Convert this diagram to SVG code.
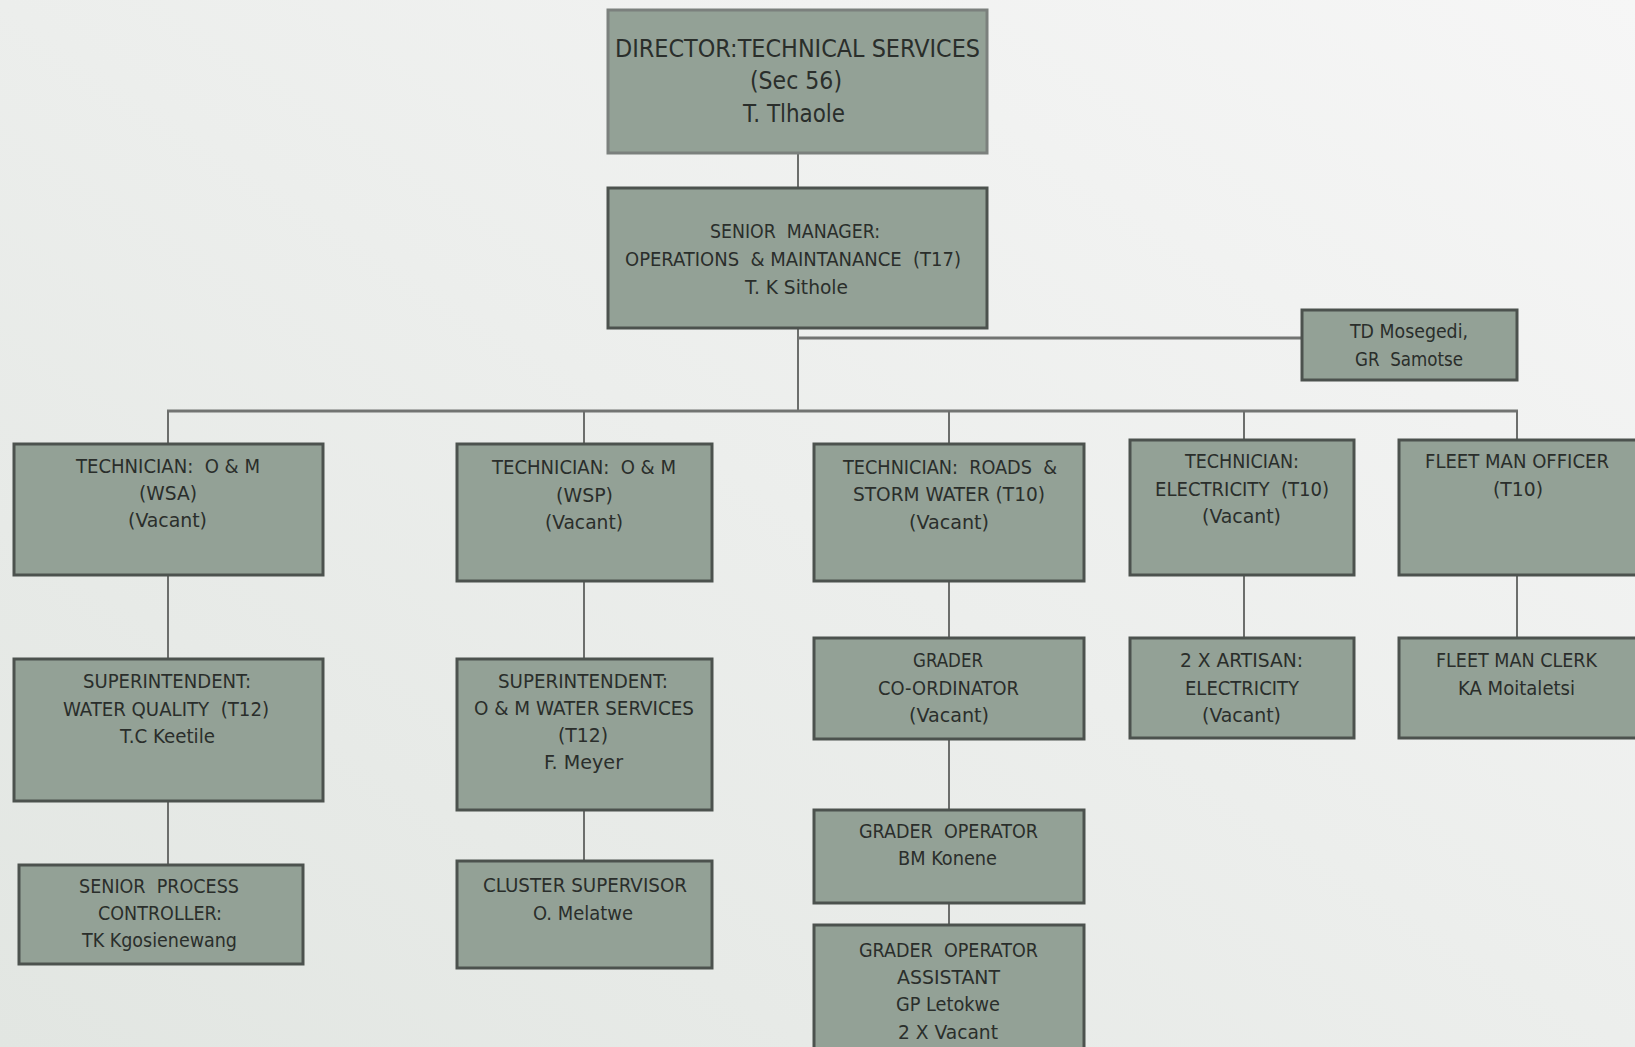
<svg xmlns="http://www.w3.org/2000/svg" width="1635" height="1047" viewBox="0 0 1635 1047">
  <defs>
    <linearGradient id="bg" x1="1" y1="0" x2="0" y2="1">
      <stop offset="0" stop-color="#f6f6f6"/>
      <stop offset="1" stop-color="#e2e6e2"/>
    </linearGradient>
    <style>
      .box { fill: #93a196; stroke: #4c524e; stroke-width: 3; }
      .box.light { stroke: #7b807d; }
      .t { font-family: "DejaVu Sans Condensed", "DejaVu Sans", sans-serif; font-size: 20px; fill: #2a2e2b; text-anchor: middle; white-space: pre; }
      .big { font-size: 25px; }
      .v { stroke: #6c6e6c; stroke-width: 2; fill: none; }
      .h { stroke: #727472; stroke-width: 3; fill: none; }
    </style>
  </defs>

  <rect x="0" y="0" width="1635" height="1047" fill="url(#bg)"/>

  <!-- reporting lines -->
  <g id="connectors">
    <line class="v" x1="798" y1="153" x2="798" y2="188"/>
    <line class="v" x1="798" y1="328" x2="798" y2="411"/>
    <line class="h" x1="798" y1="338" x2="1302" y2="338"/>
    <line class="h" x1="167" y1="411" x2="1518" y2="411"/>
    <line class="v" x1="168" y1="411" x2="168" y2="444"/>
    <line class="v" x1="584" y1="411" x2="584" y2="444"/>
    <line class="v" x1="949" y1="411" x2="949" y2="444"/>
    <line class="v" x1="1244" y1="411" x2="1244" y2="440"/>
    <line class="v" x1="1517" y1="411" x2="1517" y2="440"/>
    <line class="v" x1="168" y1="575" x2="168" y2="659"/>
    <line class="v" x1="168" y1="801" x2="168" y2="865"/>
    <line class="v" x1="584" y1="581" x2="584" y2="659"/>
    <line class="v" x1="584" y1="810" x2="584" y2="861"/>
    <line class="v" x1="949" y1="581" x2="949" y2="638"/>
    <line class="v" x1="949" y1="739" x2="949" y2="810"/>
    <line class="v" x1="949" y1="903" x2="949" y2="925"/>
    <line class="v" x1="1244" y1="575" x2="1244" y2="638"/>
    <line class="v" x1="1517" y1="575" x2="1517" y2="638"/>
  </g>

  <g id="director">
    <rect class="box light" x="608" y="10" width="379" height="143"/>
    <text class="t big" x="797.5" y="57" textLength="365" lengthAdjust="spacingAndGlyphs">DIRECTOR:TECHNICAL SERVICES</text>
    <text class="t big" x="796" y="89" textLength="92" lengthAdjust="spacingAndGlyphs">(Sec 56)</text>
    <text class="t big" x="794" y="122" textLength="102" lengthAdjust="spacingAndGlyphs">T. Tlhaole</text>
  </g>

  <g id="senior-manager">
    <rect class="box" x="608" y="188" width="379" height="140"/>
    <text class="t" x="795" y="238" textLength="170" lengthAdjust="spacingAndGlyphs">SENIOR  MANAGER:</text>
    <text class="t" x="793" y="266" textLength="336" lengthAdjust="spacingAndGlyphs">OPERATIONS  &amp; MAINTANANCE  (T17)</text>
    <text class="t" x="796.5" y="294" textLength="103" lengthAdjust="spacingAndGlyphs">T. K Sithole</text>
  </g>

  <g id="support-staff">
    <rect class="box" x="1302" y="310" width="215" height="70"/>
    <text class="t" x="1409" y="338" textLength="118" lengthAdjust="spacingAndGlyphs">TD Mosegedi,</text>
    <text class="t" x="1409" y="366" textLength="108" lengthAdjust="spacingAndGlyphs">GR  Samotse</text>
  </g>

  <g id="tech-wsa">
    <rect class="box" x="14" y="444" width="309" height="131"/>
    <text class="t" x="168" y="473" textLength="184" lengthAdjust="spacingAndGlyphs">TECHNICIAN:  O &amp; M</text>
    <text class="t" x="168" y="500" textLength="58" lengthAdjust="spacingAndGlyphs">(WSA)</text>
    <text class="t" x="167.5" y="527" textLength="79" lengthAdjust="spacingAndGlyphs">(Vacant)</text>
  </g>

  <g id="super-water-quality">
    <rect class="box" x="14" y="659" width="309" height="142"/>
    <text class="t" x="167" y="688" textLength="168" lengthAdjust="spacingAndGlyphs">SUPERINTENDENT:</text>
    <text class="t" x="166" y="716" textLength="206" lengthAdjust="spacingAndGlyphs">WATER QUALITY  (T12)</text>
    <text class="t" x="167.5" y="743" textLength="95" lengthAdjust="spacingAndGlyphs">T.C Keetile</text>
  </g>

  <g id="process-controller">
    <rect class="box" x="19" y="865" width="284" height="99"/>
    <text class="t" x="159" y="893" textLength="160" lengthAdjust="spacingAndGlyphs">SENIOR  PROCESS</text>
    <text class="t" x="160" y="920" textLength="124" lengthAdjust="spacingAndGlyphs">CONTROLLER:</text>
    <text class="t" x="159.5" y="947" textLength="155" lengthAdjust="spacingAndGlyphs">TK Kgosienewang</text>
  </g>

  <g id="tech-wsp">
    <rect class="box" x="457" y="444" width="255" height="137"/>
    <text class="t" x="584" y="474" textLength="184" lengthAdjust="spacingAndGlyphs">TECHNICIAN:  O &amp; M</text>
    <text class="t" x="584.5" y="502" textLength="57" lengthAdjust="spacingAndGlyphs">(WSP)</text>
    <text class="t" x="584" y="529" textLength="78" lengthAdjust="spacingAndGlyphs">(Vacant)</text>
  </g>

  <g id="super-water-services">
    <rect class="box" x="457" y="659" width="255" height="151"/>
    <text class="t" x="583" y="688" textLength="170" lengthAdjust="spacingAndGlyphs">SUPERINTENDENT:</text>
    <text class="t" x="584" y="715" textLength="220" lengthAdjust="spacingAndGlyphs">O &amp; M WATER SERVICES</text>
    <text class="t" x="583" y="742" textLength="50" lengthAdjust="spacingAndGlyphs">(T12)</text>
    <text class="t" x="583.5" y="769" textLength="79" lengthAdjust="spacingAndGlyphs">F. Meyer</text>
  </g>

  <g id="cluster-supervisor">
    <rect class="box" x="457" y="861" width="255" height="107"/>
    <text class="t" x="585" y="892" textLength="204" lengthAdjust="spacingAndGlyphs">CLUSTER SUPERVISOR</text>
    <text class="t" x="583" y="920" textLength="100" lengthAdjust="spacingAndGlyphs">O. Melatwe</text>
  </g>

  <g id="tech-roads">
    <rect class="box" x="814" y="444" width="270" height="137"/>
    <text class="t" x="950" y="474" textLength="214" lengthAdjust="spacingAndGlyphs">TECHNICIAN:  ROADS  &amp;</text>
    <text class="t" x="949" y="501" textLength="192" lengthAdjust="spacingAndGlyphs">STORM WATER (T10)</text>
    <text class="t" x="949" y="529" textLength="80" lengthAdjust="spacingAndGlyphs">(Vacant)</text>
  </g>

  <g id="grader-coordinator">
    <rect class="box" x="814" y="638" width="270" height="101"/>
    <text class="t" x="948" y="667" textLength="70" lengthAdjust="spacingAndGlyphs">GRADER</text>
    <text class="t" x="948.5" y="695" textLength="141" lengthAdjust="spacingAndGlyphs">CO-ORDINATOR</text>
    <text class="t" x="949" y="722" textLength="80" lengthAdjust="spacingAndGlyphs">(Vacant)</text>
  </g>

  <g id="grader-operator">
    <rect class="box" x="814" y="810" width="270" height="93"/>
    <text class="t" x="948.5" y="838" textLength="179" lengthAdjust="spacingAndGlyphs">GRADER  OPERATOR</text>
    <text class="t" x="947.5" y="865" textLength="99" lengthAdjust="spacingAndGlyphs">BM Konene</text>
  </g>

  <g id="grader-assistant">
    <rect class="box" x="814" y="925" width="270" height="135"/>
    <text class="t" x="948.5" y="957" textLength="179" lengthAdjust="spacingAndGlyphs">GRADER  OPERATOR</text>
    <text class="t" x="948.5" y="984" textLength="103" lengthAdjust="spacingAndGlyphs">ASSISTANT</text>
    <text class="t" x="948" y="1011" textLength="104" lengthAdjust="spacingAndGlyphs">GP Letokwe</text>
    <text class="t" x="948" y="1039" textLength="100" lengthAdjust="spacingAndGlyphs">2 X Vacant</text>
  </g>

  <g id="tech-electricity">
    <rect class="box" x="1130" y="440" width="224" height="135"/>
    <text class="t" x="1242" y="468" textLength="114" lengthAdjust="spacingAndGlyphs">TECHNICIAN:</text>
    <text class="t" x="1242" y="496" textLength="174" lengthAdjust="spacingAndGlyphs">ELECTRICITY  (T10)</text>
    <text class="t" x="1241.5" y="523" textLength="79" lengthAdjust="spacingAndGlyphs">(Vacant)</text>
  </g>

  <g id="artisan-electricity">
    <rect class="box" x="1130" y="638" width="224" height="100"/>
    <text class="t" x="1241.5" y="667" textLength="123" lengthAdjust="spacingAndGlyphs">2 X ARTISAN:</text>
    <text class="t" x="1242" y="695" textLength="114" lengthAdjust="spacingAndGlyphs">ELECTRICITY</text>
    <text class="t" x="1241.5" y="722" textLength="79" lengthAdjust="spacingAndGlyphs">(Vacant)</text>
  </g>

  <g id="fleet-officer">
    <rect class="box" x="1399" y="440" width="250" height="135"/>
    <text class="t" x="1517" y="468" textLength="184" lengthAdjust="spacingAndGlyphs">FLEET MAN OFFICER</text>
    <text class="t" x="1518" y="496" textLength="50" lengthAdjust="spacingAndGlyphs">(T10)</text>
  </g>

  <g id="fleet-clerk">
    <rect class="box" x="1399" y="638" width="250" height="100"/>
    <text class="t" x="1516.5" y="667" textLength="161" lengthAdjust="spacingAndGlyphs">FLEET MAN CLERK</text>
    <text class="t" x="1516.5" y="695" textLength="117" lengthAdjust="spacingAndGlyphs">KA Moitaletsi</text>
  </g>
</svg>
